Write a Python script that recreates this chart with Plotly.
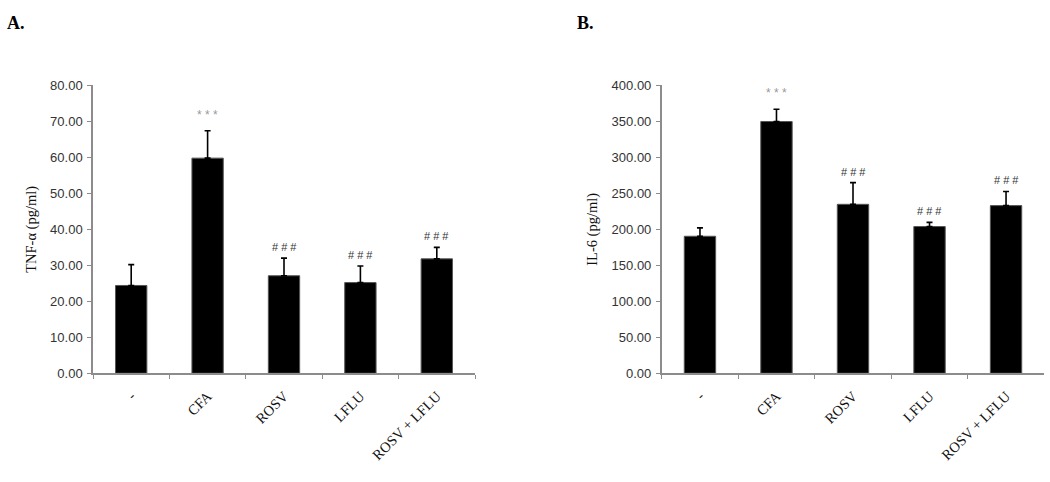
import plotly.graph_objects as go

categories = ["-", "CFA", "ROSV", "LFLU", "ROSV + LFLU"]

tnf_mean = [24.4, 59.8, 27.1, 25.2, 31.8]
tnf_err = [5.8, 7.6, 4.9, 4.6, 3.2]
tnf_marks = ["", "* * *", "# # #", "# # #", "# # #"]

il6_mean = [190.4, 349.9, 234.8, 203.9, 233.0]
il6_err = [11.6, 17.1, 30.2, 5.8, 19.7]
il6_marks = ["", "* * *", "# # #", "# # #", "# # #"]

y_ticks_a = [0, 10, 20, 30, 40, 50, 60, 70, 80]
y_ticks_b = [0, 50, 100, 150, 200, 250, 300, 350, 400]

W, H = 1050, 482
AX_GRAY = "#8c8c8c"
TICK_FONT = dict(family="Liberation Sans, Arial, sans-serif", size=13, color="#333333")
CAT_FONT = dict(family="Liberation Serif, Times New Roman, serif", size=14.5, color="#111111")
TITLE_FONT = dict(family="Liberation Serif, Times New Roman, serif", size=14.5, color="#111111")

fig = go.Figure()

def add_panel(means, errs, xa, ya):
    fig.add_trace(go.Bar(
        x=categories, y=means, xaxis=xa, yaxis=ya,
        marker=dict(color="black", line=dict(color="#555555", width=1)),
        width=0.41,
        error_y=dict(type="data", symmetric=False, array=errs,
                     arrayminus=[0] * len(errs), color="black",
                     thickness=1.6, width=3),
        showlegend=False, hoverinfo="skip",
    ))

add_panel(tnf_mean, tnf_err, "x", "y")
add_panel(il6_mean, il6_err, "x2", "y2")

def add_marks(means, errs, marks, xref, yref, offset, star_gap):
    for c, m, e, t in zip(categories, means, errs, marks):
        if not t:
            continue
        is_star = t.startswith("*")
        fig.add_annotation(
            x=c, y=m + e, xref=xref, yref=yref,
            text=t, showarrow=False, yanchor="bottom",
            yshift=star_gap if is_star else offset,
            font=dict(family="Liberation Sans, Arial, sans-serif",
                      size=12 if is_star else 11,
                      color="#999999" if is_star else "#333333"),
        )

add_marks(tnf_mean, tnf_err, tnf_marks, "x", "y", 3, 7)
add_marks(il6_mean, il6_err, il6_marks, "x2", "y2", 3, 7)

xdomA = [93 / W, 475 / W]
xdomB = [661.7 / W, 1044.3 / W]
ydom = [1 - 378 / H, 1 - 81 / H]

xcommon = dict(
    type="category", range=[-0.5, 4.5], tickson="boundaries",
    ticks="outside", ticklen=4, tickcolor=AX_GRAY, tickwidth=1,
    showline=True, linecolor=AX_GRAY, linewidth=1.5,
    showgrid=False, zeroline=False, tickangle=-45, tickfont=CAT_FONT,
    ticklabelstandoff=7,
)
ycommon = dict(
    ticks="outside", ticklen=4, tickcolor=AX_GRAY, tickwidth=1,
    showline=True, linecolor=AX_GRAY, linewidth=1.5,
    showgrid=False, zeroline=False, tickfont=TICK_FONT, tickformat=".2f",
    ticklabelstandoff=2,
)

fig.update_layout(
    width=W, height=H,
    margin=dict(l=0, r=0, t=0, b=0),
    paper_bgcolor="white", plot_bgcolor="white",
    bargap=0.59,
    xaxis=dict(domain=xdomA, anchor="y", **xcommon),
    yaxis=dict(domain=ydom, anchor="x", range=[0, 80], tickvals=y_ticks_a,
               title=dict(text="TNF-α (pg/ml)", font=TITLE_FONT, standoff=10),
               **ycommon),
    xaxis2=dict(domain=xdomB, anchor="y2", **xcommon),
    yaxis2=dict(domain=ydom, anchor="x2", range=[0, 400], tickvals=y_ticks_b,
                title=dict(text="IL-6 (pg/ml)", font=TITLE_FONT, standoff=10),
                **ycommon),
)

PANEL_FONT = dict(family="Liberation Serif, Times New Roman, serif", size=18, color="black")
fig.add_annotation(x=5 / W, y=1 - 4 / H, xref="paper", yref="paper", text="<b>A.</b>",
                   showarrow=False, xanchor="left", yanchor="top", font=PANEL_FONT)
fig.add_annotation(x=575 / W, y=1 - 4 / H, xref="paper", yref="paper", text="<b>B.</b>",
                   showarrow=False, xanchor="left", yanchor="top", font=PANEL_FONT)

fig.write_html("out.html")
